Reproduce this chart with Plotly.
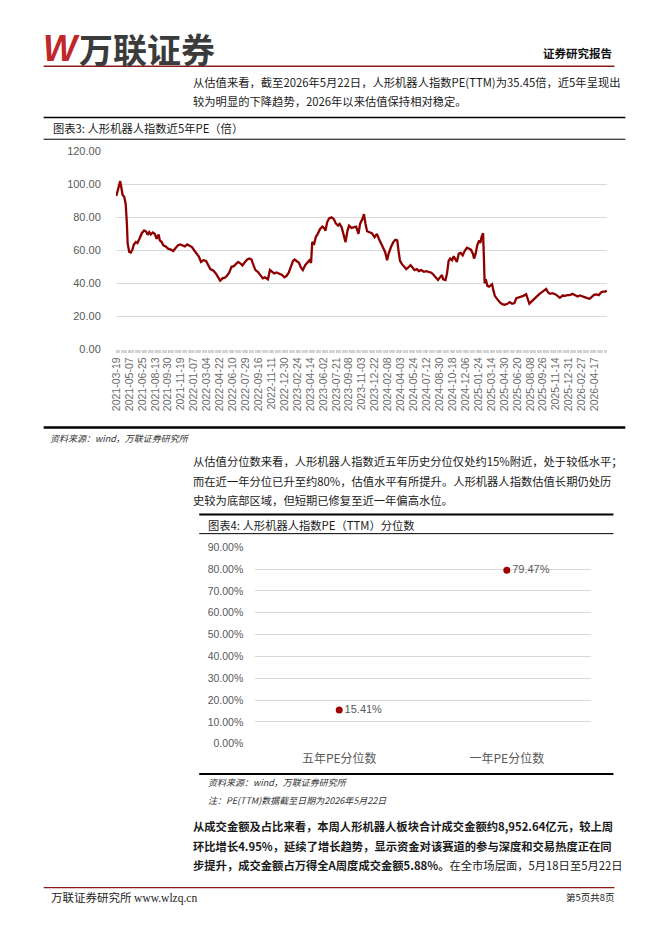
import plotly.graph_objects as go

W, H = 662, 936
CJK = "Noto Sans CJK SC"
NUM = "Liberation Sans, Noto Sans CJK SC"

# ---------------- Chart 1 data: PE(TTM), trading-day index -> value ----------------
pe_tick_labels = [
    "2021-03-19", "2021-05-07", "2021-06-25", "2021-08-13", "2021-09-30", "2021-11-19",
    "2022-01-07", "2022-03-04", "2022-04-22", "2022-06-10", "2022-07-29", "2022-09-16",
    "2022-11-11", "2022-12-30", "2023-02-24", "2023-04-14", "2023-06-02", "2023-07-21",
    "2023-09-08", "2023-11-03", "2023-12-22", "2024-02-08", "2024-04-03", "2024-05-24",
    "2024-07-12", "2024-08-30", "2024-10-18", "2024-12-06", "2025-01-24", "2025-03-14",
    "2025-04-30", "2025-06-20", "2025-08-08", "2025-09-26", "2025-11-14", "2025-12-31",
    "2026-02-27", "2026-04-17",
]
TICK_STEP = 33  # trading days between labelled categories

pe_index = [
    0, 6, 10, 13, 16, 20, 24, 27, 29, 33, 37, 41, 45, 50, 54, 59, 65, 71, 76, 80,
    84, 88, 93, 98, 103, 108, 111, 116, 120, 126, 132, 139, 145, 152, 157, 163, 170, 175, 181, 187,
    193, 200, 205, 211, 216, 222, 229, 235, 240, 248, 254, 260, 265, 271, 277, 282, 288, 294, 300, 305,
    311, 317, 322, 328, 334, 340, 345, 350, 355, 361, 368, 374, 379, 383, 387, 392, 398, 403, 409, 414,
    417, 423, 429, 434, 440, 446, 451, 455, 461, 466, 471, 476, 482, 488, 493, 497, 500, 505, 509, 514,
    520, 526, 530, 534, 538, 543, 549, 555, 560, 566, 570, 575, 580, 585, 590, 594, 600, 606, 612, 618,
    622, 628, 632, 636, 640, 646, 652, 659, 665, 670, 676, 681, 686, 691, 695, 701, 707, 712, 717, 720,
    724, 729, 734, 740, 745, 751, 756, 761, 767, 772, 778, 785, 791, 798, 804, 810, 816, 821, 826, 831,
    834, 840, 844, 848, 852, 857, 861, 865, 869, 874, 879, 884, 889, 895, 900, 905, 910, 913, 917, 921,
    926, 929, 932, 936, 938, 940, 943, 947, 951, 955, 959, 962, 966, 972, 979, 985, 991, 997, 1004, 1010,
    1016, 1021, 1027, 1033, 1039, 1046, 1050, 1054, 1060, 1067, 1074, 1080, 1087, 1092, 1097, 1102, 1107, 1113, 1120, 1126,
    1132, 1139, 1145, 1151, 1157, 1164, 1171, 1177, 1183, 1189, 1196, 1202, 1208, 1213, 1219, 1225, 1231, 1237, 1242, 1248,
    1252,
]
pe_values = [
    93, 98, 102, 98, 93.6, 92.6, 88, 76, 64, 59, 58.6, 60.4, 63.6, 65, 64.4, 67, 70.4, 72, 71.4, 69.4,
    71, 69.6, 70.8, 70, 67, 69.6, 66, 65, 63, 62.4, 61, 60.4, 59.6, 61.6, 63, 63.6, 63, 62.4, 63.6, 63,
    62, 59.6, 58, 56, 53, 54, 53.6, 51, 48.6, 47.6, 46, 43.6, 41.6, 43, 43.4, 44.4, 46.4, 50, 50.4, 51.6,
    53, 52, 50.8, 52.8, 54.4, 55, 54.4, 51, 48, 47, 45, 43, 43.6, 43, 42.4, 48, 47, 46, 46.6, 46,
    46, 45, 43.6, 44.4, 46.4, 50, 53.6, 54.4, 53, 52.4, 49.6, 48, 51, 53, 54, 52.4, 65, 64, 68, 70,
    73, 74.4, 73.6, 72, 77, 79.4, 80, 79, 76.4, 75, 76, 74, 70, 65, 72, 75, 73.6, 74, 74.4, 70,
    76, 79, 82, 76, 71.6, 71, 70.4, 68, 70, 67, 64, 61, 59, 54, 58, 62, 65, 66.4, 66, 60,
    53.6, 51.6, 50, 48.6, 49.6, 51, 49.6, 48, 48.6, 47.4, 48, 47, 47.4, 47, 46.4, 45, 43, 42, 43.6, 45,
    42.4, 42, 46, 53.6, 55, 54, 56.4, 55, 53, 58, 58.4, 57, 59.6, 61.6, 61, 60.4, 58, 55, 58, 63,
    66, 64.4, 68, 70.4, 56, 40, 42.4, 38.4, 38, 39, 39.4, 36, 32.4, 30.4, 28.4, 27.4, 27, 27.4, 28.6, 27.6,
    28, 31, 31.4, 31.6, 32.4, 33.4, 31, 27.6, 29, 30.8, 32.4, 33.6, 34.8, 36, 36.6, 34.4, 33.6, 34, 33.4, 32.4,
    31.2, 32.6, 32.4, 32.8, 32.8, 33.6, 32.8, 32, 32.6, 32, 31.6, 31, 30.6, 31.6, 33, 33.2, 32.8, 34.4, 35, 35,
    35.45,
]

# ---------------- Chart 2 data: PE(TTM) percentile ----------------
pct_categories = ["五年PE分位数", "一年PE分位数"]
pct_values = [15.41, 79.47]

LINE_RED = "#8e0000"
DOT_RED = "#a00000"
GRID = "#d9d9d9"
AXIS_TXT = "#595959"


def px_x(x):
    return x / W


def px_y(y):
    return 1 - y / H


fig = go.Figure()

fig.add_trace(go.Scatter(
    x=pe_index, y=pe_values, mode="lines",
    line=dict(color=LINE_RED, width=2.3),
    xaxis="x", yaxis="y", hoverinfo="skip",
))

fig.add_trace(go.Scatter(
    x=pct_categories, y=pct_values, mode="markers+text",
    marker=dict(color=DOT_RED, size=7),
    text=[f"{v:.2f}%" for v in pct_values], textposition="middle right",
    textfont=dict(size=11, color=AXIS_TXT, family=NUM),
    xaxis="x2", yaxis="y2", hoverinfo="skip",
))

annotations = []


def T(text, x, y, size=11.3, color="#1a1a1a", xanchor="left", family=CJK):
    annotations.append(dict(
        text=text, x=px_x(x), y=px_y(y), xref="paper", yref="paper",
        showarrow=False, xanchor=xanchor, yanchor="middle",
        font=dict(size=size, color=color, family=family),
    ))


shapes = []


def L(x0, x1, y, color="#000000", width=1.0):
    shapes.append(dict(
        type="line", xref="paper", yref="paper",
        x0=px_x(x0), x1=px_x(x1), y0=px_y(y), y1=px_y(y),
        line=dict(color=color, width=width),
    ))


# Header
T("<b><i>W</i></b>", 35, 43, size=36, color="#c0272d", family="Liberation Sans")
T("<b>万联证券</b>", 72, 43, size=34, color="#3b3b3b")
T("<b>证券研究报告</b>", 614, 48, size=11.5, color="#111111", xanchor="right")
L(38, 614, 61, color="#8b1c1c", width=1.5)

# Paragraph 1
T("从估值来看，截至2026年5月22日，人形机器人指数PE(TTM)为35.45倍，近5年呈现出", 187, 77)
T("较为明显的下降趋势，2026年以来估值保持相对稳定。", 187, 96)

# Chart 3 frame
L(38, 625, 113, width=1.6)
T("图表3: 人形机器人指数近5年PE（倍）", 45, 124, size=11.3, color="#1a1a1a")
L(38, 625, 135, width=1.2)
L(38, 625, 427, width=2.5)
T("<i>资料来源：wind，万联证券研究所</i>", 42, 438, size=9, color="#333333")

# Paragraph 2
T("从估值分位数来看，人形机器人指数近五年历史分位仅处约15%附近，处于较低水平；", 187, 461)
T("而在近一年分位已升至约80%，估值水平有所提升。人形机器人指数估值长期仍处历", 187, 481)
T("史较为底部区域，但短期已修复至近一年偏高水位。", 187, 500)

# Chart 4 frame
L(195, 613, 515, width=2)
T("图表4: 人形机器人指数PE（TTM）分位数", 202, 526, size=11.3, color="#1a1a1a")
L(195, 613, 534.5, width=1)
L(195, 613, 778, width=2)
T("<i>资料来源：wind，万联证券研究所</i>", 202, 787, size=9, color="#333333")
T("<i>注：PE(TTM)数据截至日期为2026年5月22日</i>", 202, 805, size=9, color="#333333")

# Paragraph 3
T("<b>从成交金额及占比来看，本周人形机器人板块合计成交金额约8,952.64亿元，较上周</b>", 187, 831)
T("<b>环比增长4.95%，延续了增长趋势，显示资金对该赛道的参与深度和交易热度正在同</b>", 187, 851)
T("<b>步提升，成交金额占万得全A周度成交金额5.88%。</b>在全市场层面，5月18日至5月22日", 187, 870)

# Footer
L(38, 614, 893, color="#8b1c1c", width=1.2)
T("万联证券研究所 <span style='font-family:Liberation Serif'>www.wlzq.cn</span>", 43, 903, size=11.5, color="#222222")
T("第5页共8页", 617, 903, size=9.5, color="#222222", xanchor="right")

fig.update_layout(
    width=W, height=H,
    margin=dict(l=0, r=0, t=0, b=0),
    paper_bgcolor="white", plot_bgcolor="white",
    showlegend=False,
    annotations=annotations,
    shapes=shapes,
    xaxis=dict(
        domain=[px_x(111), px_x(607)], anchor="y",
        range=[-0.8, 1253.5],
        tickmode="array",
        tickvals=[i * TICK_STEP for i in range(len(pe_tick_labels))],
        ticktext=pe_tick_labels,
        tickangle=-90,
        tickfont=dict(size=10.5, color="#6a6a6a", family=NUM),
        ticks="outside", ticklen=3, tickcolor="#c8c8c8", tickwidth=1,
        minor=dict(ticks="outside", ticklen=3, tickcolor="#d4d4d4", tickmode="linear",
                   tick0=0, dtick=3, showgrid=False),
        showgrid=False, zeroline=False, showline=False, fixedrange=True,
    ),
    yaxis=dict(
        domain=[px_y(347.7), px_y(147.3)], anchor="x",
        range=[0, 120], dtick=20, tickformat=".2f",
        tickfont=dict(size=11, color=AXIS_TXT, family=NUM),
        ticks="outside", ticklen=12, tickcolor="rgba(0,0,0,0)",
        showgrid=True, gridcolor=GRID, gridwidth=1,
        zeroline=False, showline=False, fixedrange=True,
    ),
    xaxis2=dict(
        domain=[px_x(251.7), px_x(590)], anchor="y2",
        type="category", range=[-0.5, 1.5],
        tickfont=dict(size=12, color=AXIS_TXT, family=CJK),
        ticks="outside", ticklen=4, tickcolor="rgba(0,0,0,0)",
        showgrid=False, zeroline=False, showline=False, fixedrange=True,
    ),
    yaxis2=dict(
        domain=[px_y(747.3), px_y(548.3)], anchor="x2",
        range=[0, 90], dtick=10, tickformat=".2f", ticksuffix="%",
        tickfont=dict(size=10.5, color=AXIS_TXT, family=NUM),
        ticks="outside", ticklen=9, tickcolor="rgba(0,0,0,0)",
        showgrid=True, gridcolor=GRID, gridwidth=1,
        zeroline=False, showline=False, fixedrange=True,
    ),
)

fig.write_html(
    "out.html",
    config={"displayModeBar": False},
    post_script="document.body.style.margin='0';document.body.style.overflow='hidden';",
)
